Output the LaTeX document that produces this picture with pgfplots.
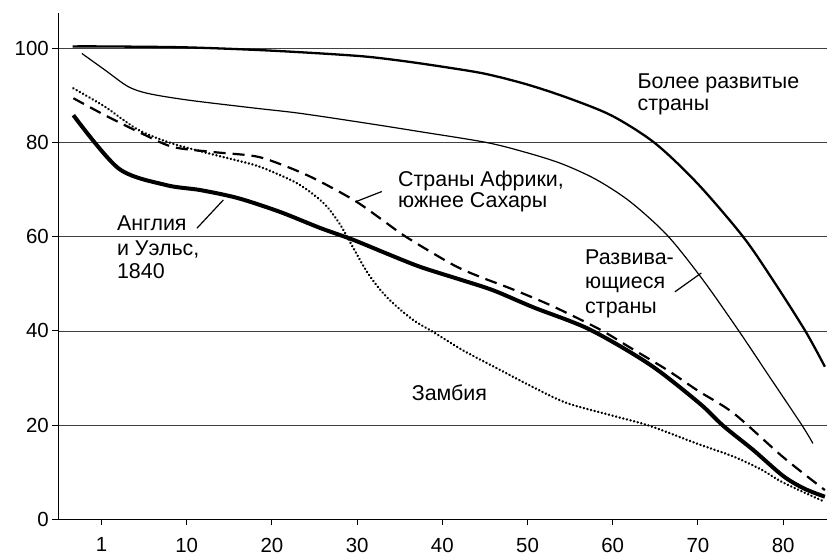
\documentclass[border=0pt]{standalone}
\usepackage{pgfplots}
\pgfplotsset{compat=1.18}
\usepackage{fontspec}
\setmainfont{Liberation Sans}
\newcommand\lab{\fontsize{21.5}{23}\selectfont}
\newcommand\ticfont{\fontsize{20.5}{21}\selectfont}
\begin{document}
\begin{tikzpicture}
\begin{axis}[
  scale only axis, width=768.7bp, height=506.3bp,
  xmin=-5.07, xmax=85.15, ymin=0, ymax=107.5,
  axis x line*=bottom, axis y line*=left,
  axis line style={line width=1.3bp},
  xtick={0,10,20,30,40,50,60,70,80},
  xticklabels={1,10,20,30,40,50,60,70,80},
  ytick={0,20,40,60,80,100},
  yticklabels={0,20,40,60,80,100},
  every tick label/.append style={font=\ticfont},
  ymajorgrids, grid style={black!75, line width=0.7bp},
  tick align=outside, major tick length=6bp,
  tick style={line width=1bp, black},
  xticklabel style={yshift=-9bp},
  clip=false,
  every axis plot/.append style={black, smooth, tension=0.5},
]
% Более развитые страны
\addplot[line width=2.3bp] coordinates {
(-3.4,100.4) (0,100.4) (10,100.2) (20,99.5) (30,98.4) (35,97.4) (40,96.1)
(45,94.6) (50,92.3) (55,89.3) (60,85.6) (65,79.8) (70,71.2)
(75.3,60) (78.8,50.8) (82.6,40) (84.9,32.4)};
% Развивающиеся страны
\addplot[line width=1.2bp] coordinates {
(-2.3,98.9) (0.4,95.4) (3.1,91.9) (5.5,90.4) (10.2,89) (18,87.3) (23.3,86.2)
(31.1,84.1) (37.4,82.3) (45.2,80) (50,77.8) (54,75.5) (58,72.2)
(62,67.5) (66.4,60.3) (70.6,50.8) (74.8,40) (78.5,30) (82.2,20) (83.5,16.1)};
% Англия и Уэльс, 1840
\addplot[line width=4bp] coordinates {
(-3.3,85.8) (2,74.5) (7.5,71) (11.6,69.9) (16,68.2) (20.9,65.3) (25.6,61.9)
(29.6,59.3) (33.5,56.4) (37.4,53.6) (42.1,50.9) (46,48.6) (50.7,45) (57.3,40.3) (64.4,32.8)
(70.2,24.6) (73,19.8) (76.5,14.7) (80,9.2) (82.5,6.5) (84.9,4.8)};
% Страны Африки южнее Сахары
\addplot[line width=2.2bp, dash pattern=on 12bp off 7bp] coordinates {
(-3.3,89.4) (0.4,85.8) (4.3,82.3) (8.3,79.1) (13,78) (18,77.1) (21,75.4)
(24.8,72.5) (29.6,67.8) (32.7,63.9) (35.8,59.9) (41.3,54) (44.4,51.5)
(48.3,48.8) (53,45.2) (58.5,40.3) (62,36.5) (66.4,31.7) (70,27.3)
(74.2,22.5) (80,13.2) (84.9,6.2)};
% Замбия
\addplot[line width=2.7bp, line cap=round, dash pattern=on 0.01bp off 3.7bp] coordinates {
(-3.3,91.5) (0.4,87.6) (4.3,82.7) (8.3,79.8) (13,77.5) (18,75.2) (20.8,73.2)
(23,71.3) (25,68.8) (26.5,66.3) (28,62.6) (29.5,57.8) (31,53) (32.5,49.2) (34.2,45.9)
(36.6,42.3) (38.9,39.8) (42.5,35.8) (46.8,31.7) (50.5,28.2) (54.6,24.7)
(60,22) (64.4,19.8) (70,16) (74.2,13.3) (77.5,10.5) (80,7.8) (84.9,3.7)};
% leader lines
\draw[line width=1.2bp] (axis cs:29.8,67.4) -- (axis cs:32.9,69.6);
\draw[line width=1.2bp] (axis cs:11.2,61.8) -- (axis cs:14.3,67.8);
\draw[line width=1.2bp] (axis cs:67.3,48.3) -- (axis cs:70.4,52.3);
% labels
\node[anchor=base west, font=\lab, inner sep=0pt] at (axis cs:62.9,91.5) {Более развитые};
\node[anchor=base west, font=\lab, inner sep=0pt] at (axis cs:62.9,86.9) {страны};
\node[anchor=base west, font=\lab, inner sep=0pt] at (axis cs:34.8,70.6) {Страны Африки,};
\node[anchor=base west, font=\lab, inner sep=0pt] at (axis cs:34.8,66.1) {южнее Сахары};
\node[anchor=base west, font=\lab, inner sep=0pt] at (axis cs:1.8,61.4) {Англия};
\node[anchor=base west, font=\lab, inner sep=0pt] at (axis cs:1.8,56.1) {и Уэльс,};
\node[anchor=base west, font=\lab, inner sep=0pt] at (axis cs:1.8,51.2) {1840};
\node[anchor=base west, font=\lab, inner sep=0pt] at (axis cs:56.75,54) {Развива-};
\node[anchor=base west, font=\lab, inner sep=0pt] at (axis cs:56.75,49.1) {ющиеся};
\node[anchor=base west, font=\lab, inner sep=0pt] at (axis cs:56.75,43.7) {страны};
\node[anchor=base west, font=\lab, inner sep=0pt] at (axis cs:36.4,25.3) {Замбия};
\end{axis}
\pgfresetboundingbox
\path (-58.3bp,-36.7bp) rectangle (768.7bp,519.3bp);
\end{tikzpicture}
\end{document}
